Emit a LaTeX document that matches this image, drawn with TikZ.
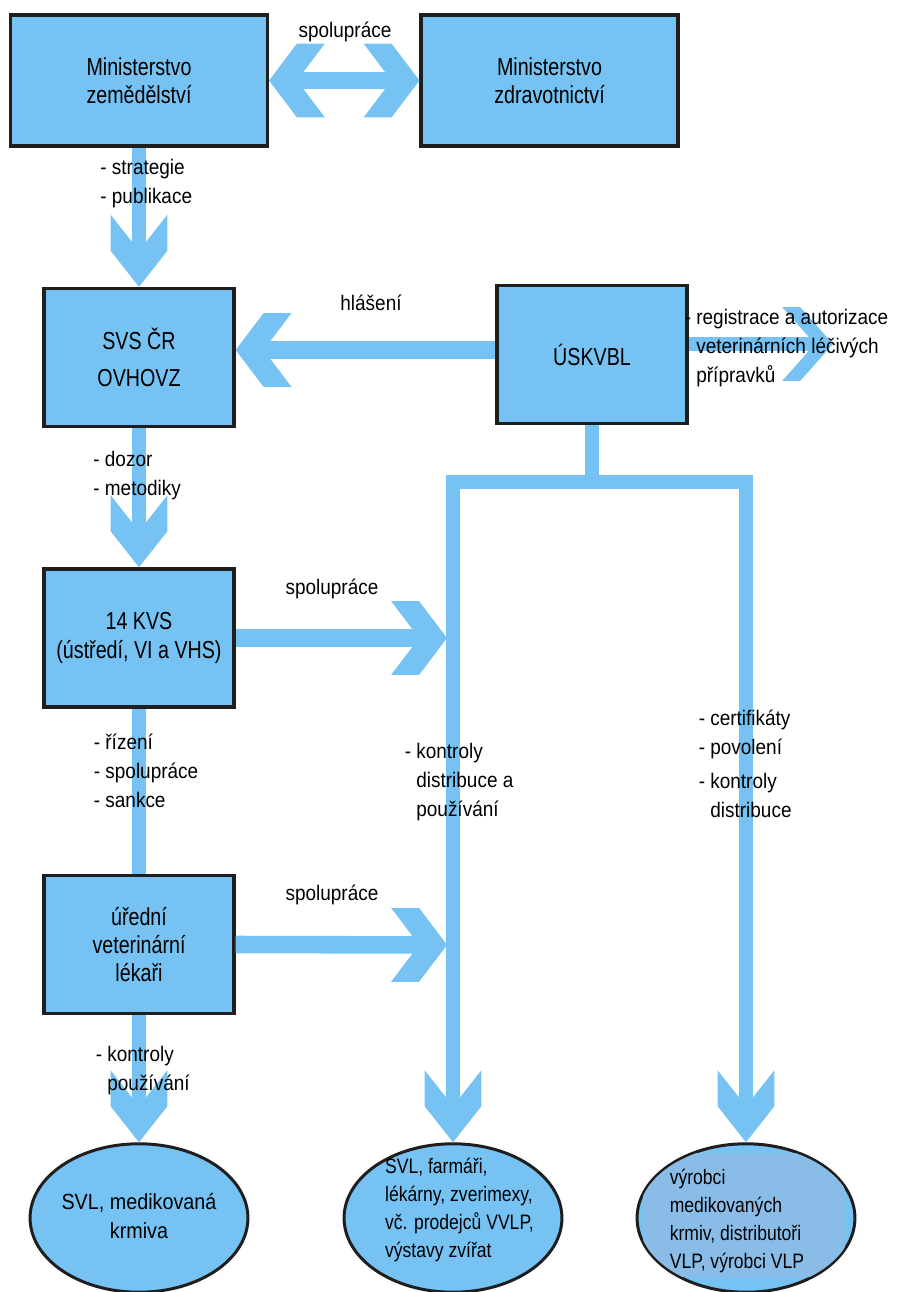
\documentclass[tikz,border=0pt]{standalone}
\usepackage{fontspec}
\setmainfont{Liberation Sans}[FakeStretch=0.9]
\newfontfamily\boxfont{Liberation Sans}[FakeStretch=0.8]
\newfontfamily\ellfont{Liberation Sans}[FakeStretch=0.84]
\usetikzlibrary{arrows.meta,shapes.geometric}

\definecolor{skyblue}{RGB}{118,194,242}
\definecolor{patchblue}{RGB}{138,188,232}
\definecolor{edgegray}{RGB}{30,30,30}

\newcommand{\hangdash}{\leavevmode\llap{- }}

% chevron head of the wide blue arrows
\pgfdeclarearrow{
  name = Chev,
  defaults = {length = 16pt, width = 42pt, inset = 16pt},
  setup code = {
    \pgfarrowssettipend{0pt}
    \pgfarrowssetlineend{-\pgfarrowinset}
    \pgfarrowssetvisualbackend{-\pgfarrowinset}
    \pgfarrowssetbackend{-\pgfarrowinset}
    \pgfarrowshullpoint{0pt}{0pt}
    \pgfarrowsupperhullpoint{-\pgfarrowlength}{.5\pgfarrowwidth}
    \pgfarrowssavethe\pgfarrowlength
    \pgfarrowssavethe\pgfarrowwidth
    \pgfarrowssavethe\pgfarrowinset
  },
  drawing code = {
    \pgfpathmoveto{\pgfpointorigin}
    \pgfpathlineto{\pgfpoint{-\pgfarrowlength}{.5\pgfarrowwidth}}
    \pgfpathlineto{\pgfpointadd{\pgfpoint{-\pgfarrowlength}{.5\pgfarrowwidth}}{\pgfpoint{-\pgfarrowinset}{0pt}}}
    \pgfpathlineto{\pgfpoint{-\pgfarrowinset}{0pt}}
    \pgfpathlineto{\pgfpointadd{\pgfpoint{-\pgfarrowlength}{-.5\pgfarrowwidth}}{\pgfpoint{-\pgfarrowinset}{0pt}}}
    \pgfpathlineto{\pgfpoint{-\pgfarrowlength}{-.5\pgfarrowwidth}}
    \pgfpathclose
    \pgfusepathqfill
  },
  parameters = {\the\pgfarrowlength,\the\pgfarrowwidth,\the\pgfarrowinset},
}
\tikzset{
  hchev/.tip={Chev[length=15.9pt,width=42pt,inset=15.9pt]},
  vchev/.tip={Chev[length=20.5pt,width=32.3pt,inset=20.5pt]},
  rchev/.tip={Chev[length=18.7pt,width=42pt,inset=10.2pt]},
}

\begin{document}
\begin{tikzpicture}[x=0.02cm, y=0.02cm,
  box/.style={draw=edgegray, line width=2pt, fill=skyblue, inner sep=0pt,
    minimum width=108pt, minimum height=78.5pt, align=center,
    font=\boxfont\fontsize{14}{16}\selectfont},
  ell/.style={ellipse, draw=edgegray, line width=1.7pt, fill=skyblue,
    inner sep=0pt, minimum width=124pt, minimum height=84.5pt},
  elltext/.style={align=left, inner sep=0pt,
    font=\ellfont\fontsize{11.9}{16}\selectfont},
  lbl/.style={align=left, inner sep=0pt, font=\fontsize{12}{16.5}\selectfont},
  harrow/.style={color=skyblue, line width=10pt, -hchev},
  varrow/.style={color=skyblue, line width=8.2pt, -vchev},
  vline/.style={color=skyblue, line width=8.2pt}]
\useasboundingbox (0,0) rectangle (905,-1292);

% boxes
\node[box, minimum width=146pt, minimum height=74.5pt] (mze) at (139,-80.5) {Ministerstvo\\zemědělství};
\node[box, minimum width=146pt, minimum height=74.5pt] (mzd) at (549.5,-80.5) {Ministerstvo\\zdravotnictví};
\node[box] (svs) at (139,-357.5) {SVS ČR\\[5pt]OVHOVZ};
\node[box] (usk) at (592,-354.5) {ÚSKVBL};
\node[box] (kvs) at (139,-638) {14 KVS\\(ústředí, VI a VHS)};
\node[box] (ured) at (139,-944.5) {úřední\\veterinární\\lékaři};
\node[ell] (e1) at (139,-1218) {};
\node[ell] (e2) at (453,-1218) {};
\node[ell] (e3) at (746,-1218) {};

\coordinate (hy) at (0,-350);
\coordinate (ry) at (0,-344);
\coordinate (rtip) at (833,-344);
\coordinate (kl) at (447,-638);
\coordinate (ul) at (447,-945);
\coordinate (split) at (592,-482);

% arrows
\draw[harrow, hchev-hchev] (mze.east) -- (mzd.west);
\draw[varrow] (mze.south) -- (svs.north);
\draw[harrow] (usk.west |- hy) -- (svs.east |- hy);
\draw[harrow, line width=7.5pt, -rchev] (usk.east |- ry) -- (rtip);
\draw[varrow] (svs.south) -- (kvs.north);
\draw[harrow] (kvs.east) -- (kl);
\draw[vline] (kvs.south) -- (ured.north);
\draw[harrow] (ured.east) -- (ul);
\draw[varrow] (ured.south) -- (e1.north);
\draw[varrow] (usk.south) -- (split) -| (e2.north);
\draw[varrow] (split) -| (e3.north);

\begin{scope}
\clip (746,-1218) ellipse (108 and 73);
\fill[patchblue] (643,-1153) rectangle (845,-1277);
\end{scope}

% texts
\node[lbl] (spol1) at (345,-32) {spolupráce};
\node[lbl, anchor=west] (strat) at (100,-184) {- strategie\\- publikace};
\node[lbl] (hlas) at (371,-303) {hlášení};
\node[lbl, anchor=west] (regis) at (696,-348) {\hangdash registrace a autorizace\\veterinárních léčivých\\přípravků};
\node[lbl, anchor=west] (dozor) at (93,-476) {- dozor\\- metodiky};
\node[lbl] (spol2) at (332,-589) {spolupráce};
\node[lbl, anchor=west] (rizeni) at (93.5,-771) {- řízení\\- spolupráce\\- sankce};
\node[lbl, anchor=west] (kontr1) at (416,-782) {\hangdash kontroly\\distribuce a\\používání};
\node[lbl, anchor=west] (certif) at (710,-764) {\hangdash certifikáty\\\hangdash povolení\\[3pt]\hangdash kontroly\\distribuce};
\node[lbl] (spol3) at (332,-895) {spolupráce};
\node[lbl, anchor=west] (kontr2) at (107,-1071) {\hangdash kontroly\\používání};

\node[lbl, align=center, font=\fontsize{12.5}{16}\selectfont] (t1) at (139,-1216) {SVL, medikovaná\\krmiva};
\node[elltext] (t2) at (459.5,-1210) {SVL, farmáři,\\lékárny, zverimexy,\\vč. prodejců VVLP,\\výstavy zvířat};
\node[elltext] (t3) at (737,-1221) {výrobci\\medikovaných\\krmiv, distributoři\\VLP, výrobci VLP};
\end{tikzpicture}
\end{document}
